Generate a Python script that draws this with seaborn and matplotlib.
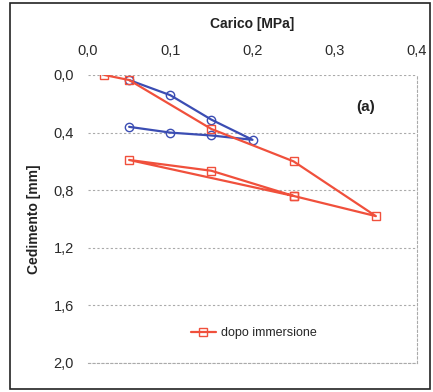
import matplotlib
matplotlib.use("Agg")
import matplotlib.pyplot as plt
from matplotlib.patches import Rectangle
from matplotlib.ticker import FuncFormatter
import seaborn as sns
import pandas as pd

# Load cycle before immersion (circles)
carico_prima = [0.05, 0.10, 0.15, 0.20, 0.15, 0.10, 0.05]
cedimento_prima = [0.035, 0.14, 0.31, 0.45, 0.42, 0.40, 0.36]

# Load cycle after immersion (squares)
carico_dopo = [0.02, 0.05, 0.15, 0.25, 0.35, 0.25, 0.05, 0.15, 0.25]
cedimento_dopo = [0.0, 0.035, 0.375, 0.60, 0.98, 0.84, 0.59, 0.665, 0.84]

x_ticks = [0.0, 0.1, 0.2, 0.3, 0.4]
y_ticks = [0.0, 0.4, 0.8, 1.2, 1.6, 2.0]

sns.set_style("white")
plt.rcParams["font.family"] = ["Liberation Sans", "DejaVu Sans"]

W, H = 433, 392
fig = plt.figure(figsize=(W / 100, H / 100), dpi=100)
ax = fig.add_axes([88 / W, 1 - 363 / H, (417 - 88) / W, (363 - 75) / H])

blue = "#3b4db3"
red = "#f0503c"

df_prima = pd.DataFrame({"carico": carico_prima, "cedimento": cedimento_prima})
df_dopo = pd.DataFrame({"carico": carico_dopo, "cedimento": cedimento_dopo})

sns.lineplot(data=df_prima, x="carico", y="cedimento", sort=False, estimator=None,
             ax=ax, color=blue, lw=1.6, marker="o", markersize=6,
             markerfacecolor="none", markeredgecolor=blue, markeredgewidth=1.0)
sns.lineplot(data=df_dopo, x="carico", y="cedimento", sort=False, estimator=None,
             ax=ax, color=red, lw=1.6, marker="s", markersize=6,
             markerfacecolor="none", markeredgecolor=red, markeredgewidth=1.0,
             label="dopo immersione")

ax.set_xlim(0, 0.4)
ax.set_ylim(2.0, 0.0)
ax.set_xticks(x_ticks)
ax.set_yticks(y_ticks)
comma = FuncFormatter(lambda v, p: f"{v:.1f}".replace(".", ","))
ax.xaxis.set_major_formatter(comma)
ax.yaxis.set_major_formatter(comma)
ax.xaxis.tick_top()
ax.xaxis.set_label_position("top")
ax.tick_params(axis="x", length=0, labelsize=10.5, colors="#2a2a2a", pad=12)
ax.tick_params(axis="y", length=0, labelsize=10.5, colors="#2a2a2a", pad=10)

ax.set_xlabel("Carico [MPa]", fontsize=10, fontweight="bold", color="#222222", labelpad=12)
ax.set_ylabel("Cedimento [mm]", fontsize=10, fontweight="bold", color="#222222", labelpad=9)

ax.grid(axis="y", linestyle=(0, (2, 2)), color="#aaaaaa", lw=0.8)
ax.grid(axis="x", visible=False)
for side in ["left", "top"]:
    ax.spines[side].set_visible(False)
for side in ["right", "bottom"]:
    ax.spines[side].set_linestyle((0, (2, 2)))
    ax.spines[side].set_color("#aaaaaa")
    ax.spines[side].set_linewidth(0.8)

ax.text(0.338, 0.22, "(a)", fontsize=11, fontweight="bold", color="#222222",
        ha="center", va="center")

leg = ax.legend(loc="center", bbox_to_anchor=(0.503, 0.104), frameon=False,
                fontsize=9, handlelength=2.0, handletextpad=0.4)

fig.patches.append(Rectangle((10 / W, 3 / H), 420 / W, 386 / H,
                             transform=fig.transFigure, fill=False,
                             edgecolor="#222222", lw=1.2))

fig.savefig("out.png", dpi=100)
